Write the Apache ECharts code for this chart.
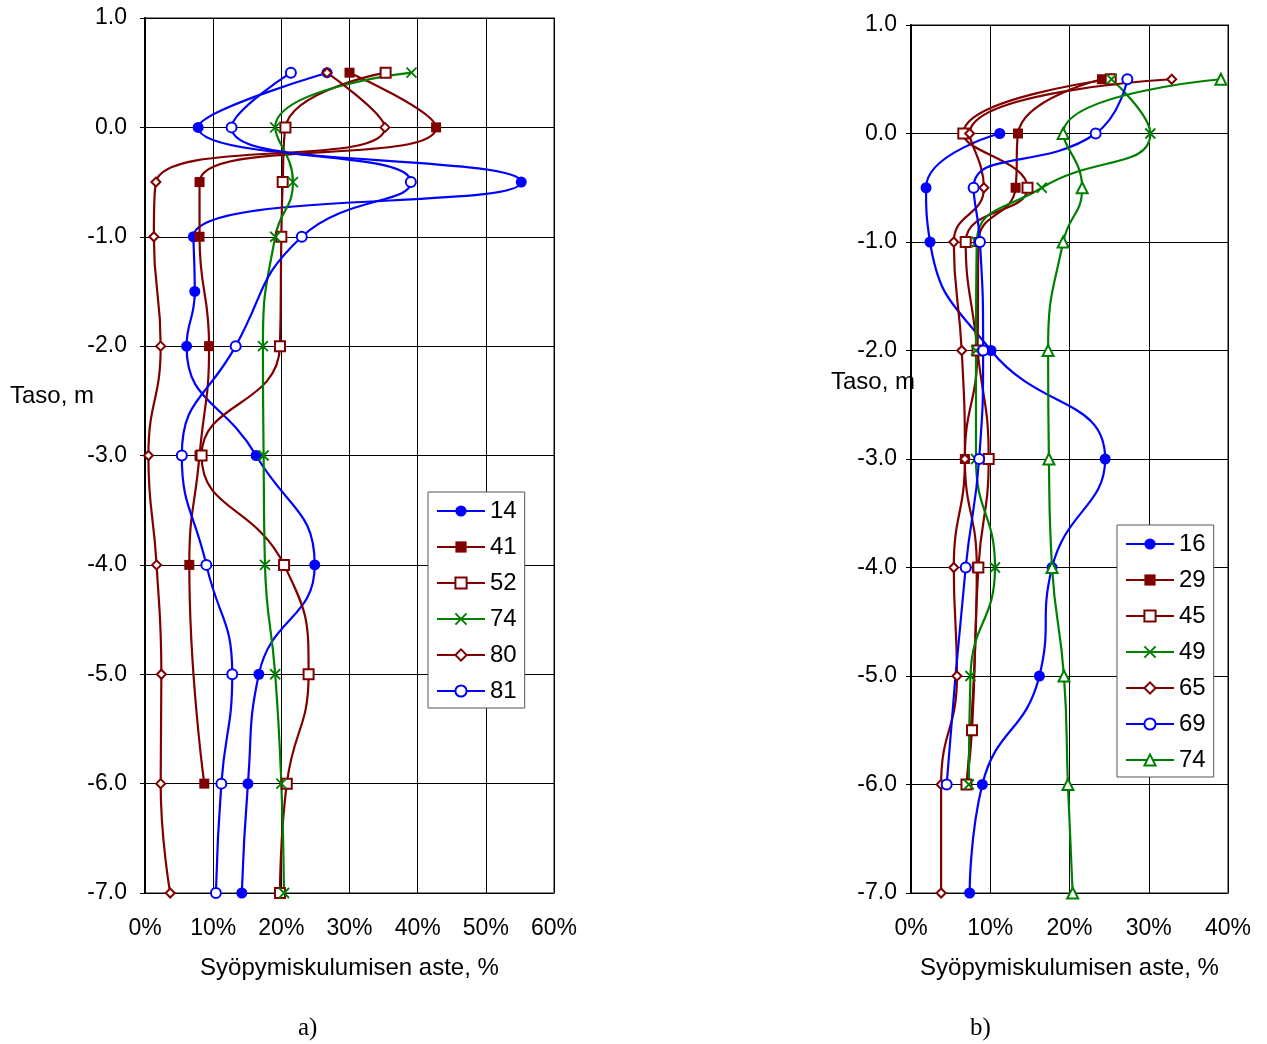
<!DOCTYPE html>
<html>
<head>
<meta charset="utf-8">
<script src="https://cdn.jsdelivr.net/npm/echarts@6/dist/echarts.min.js"></script>
<style>
html, body { margin: 0; padding: 0; background: #fff; }
#a { position: absolute; left: 0; top: 0; width: 640px; height: 1044px; }
#b { position: absolute; left: 640px; top: 0; width: 627px; height: 1044px; }
</style>
</head>
<body>
<div id="a"></div>
<div id="b"></div>
<script>
// levels (m) and corrosion (%), null = no point
const levelsA = [0.5, 0, -0.5, -1, -1.5, -2, -3, -4, -5, -6, -7];
const a14 = [26.7, 7.8, 55.2, 7.1, 7.3, 6.1, 16.3, 24.9, 16.7, 15.1, 14.2];
const a41 = [30.0, 42.7, 8.0, 8.0, null, 9.4, 8.0, 6.5, null, 8.7, null];
const a52 = [35.3, 20.6, 20.2, 20.0, null, 19.8, 8.3, 20.4, 24.0, 20.8, 19.8];
const a74 = [39.1, 19.1, 21.7, 19.1, null, 17.3, 17.4, 17.6, 19.1, 20.0, 20.4];
const a80 = [26.7, 35.2, 1.6, 1.3, null, 2.3, 0.5, 1.7, 2.4, 2.3, 3.7];
const a81 = [21.4, 12.7, 39.0, 23.0, null, 13.3, 5.4, 9.0, 12.8, 11.2, 10.4];

const levelsB = [0.5, 0, -0.5, -1, -2, -3, -4, -5, -5.5, -6, -7];
const b16 = [null, 11.2, 1.9, 2.4, 10.1, 24.5, 17.8, 16.2, null, 9.0, 7.4];
const b29 = [24.1, 13.5, 13.2, 8.5, 8.4, 6.8, 8.3, null, null, 7.0, null];
const b45 = [25.2, 6.6, 14.7, 6.9, 8.4, 9.8, 8.5, null, 7.7, 7.0, null];
const b49 = [25.3, 30.2, 16.5, 8.3, 8.2, 8.2, 10.6, 7.5, null, 7.3, null];
const b65 = [32.9, 7.4, 9.2, 5.4, 6.4, 6.8, 5.4, 5.8, null, 3.8, 3.8];
const b69 = [27.3, 23.3, 7.9, 8.7, 9.1, 8.6, 6.9, null, null, 4.5, null];
const b74 = [39.1, 19.2, 21.6, 19.2, 17.3, 17.4, 17.8, 19.3, null, 19.8, 20.4];

const BLUE = '#0000ff', RED = '#800000', GREEN = '#008000';
const CROSS = 'path://M0,0L10,10M0,10L10,0';

const mk = {
  dot: { symbol: 'circle', size: 11 },
  sq: { symbol: 'rect', size: 10 },
  osq: { symbol: 'emptyRect', size: 10 },
  x: { symbol: CROSS, size: 10 },
  dia: { symbol: 'emptyDiamond', size: 9 },
  oc: { symbol: 'emptyCircle', size: 10 },
  tri: { symbol: 'emptyTriangle', size: 11 }
};

function line(name, levels, vals, color, m) {
  const data = levels.map((l, i) => [vals[i], l]).filter(p => p[0] != null);
  return {
    name: name,
    type: 'line',
    data: data,
    smooth: 0.5,
    symbol: m.symbol,
    symbolSize: m.size,
    showAllSymbol: true,
    lineStyle: { color: color, width: 2.2 },
    itemStyle: { color: color, borderColor: color, borderWidth: m.symbol === 'circle' || m.symbol === 'rect' ? 0 : 1.8 },
    emphasis: { disabled: true },
    animation: false
  };
}

function panel(el, opt) {
  const chart = echarts.init(document.getElementById(el), null, { renderer: 'canvas' });
  const font = 'Arial, "Liberation Sans", sans-serif';
  chart.setOption({
    backgroundColor: '#fff',
    animation: false,
    grid: { left: opt.left, top: opt.top, width: opt.width, height: opt.height, show: true, borderColor: '#888', borderWidth: 2 },
    xAxis: {
      type: 'value', min: 0, max: opt.xmax, interval: 10,
      name: 'Syöpymiskulumisen aste, %', nameLocation: 'middle', nameGap: 63,
      nameTextStyle: { color: '#000', fontSize: 24, fontFamily: font },
      axisLine: { show: false },
      axisTick: { show: false },
      axisLabel: { formatter: '{value}%', color: '#000', fontSize: 23, fontFamily: font, margin: 24 },
      splitLine: { show: true, lineStyle: { color: '#000', width: 1 } }
    },
    yAxis: {
      type: 'value', min: -7, max: 1, interval: 1,
      axisLine: { show: true, onZero: false, lineStyle: { color: '#000', width: 2 } },
      axisTick: { show: true, length: 5, lineStyle: { color: '#000' } },
      axisLabel: { formatter: v => v.toFixed(1), color: '#000', fontSize: 23, fontFamily: font, margin: opt.ymargin },
      splitLine: { show: true, lineStyle: { color: '#000', width: 1 } }
    },
    legend: {
      orient: 'vertical', left: opt.legLeft, top: opt.legTop,
      backgroundColor: '#fff', borderColor: '#555', borderWidth: 1,
      padding: [7, 8, 5, 8],
      itemWidth: 48, itemHeight: 14, itemGap: 12,
      textStyle: { color: '#000', fontSize: 24, lineHeight: 24, fontFamily: font },
      selectedMode: false
    },
    graphic: [
      { type: 'text', left: opt.tasoX, top: opt.tasoY, style: { text: 'Taso, m', fill: '#000', font: '24px ' + font } },
      { type: 'text', left: opt.capX, top: 1016, style: { text: opt.cap, fill: '#000', font: '25px "Liberation Serif", "Times New Roman", serif' } }
    ],
    series: opt.series
  });
}

panel('a', {
  left: 145, top: 18, width: 409, height: 875, xmax: 60, ymargin: 18,
  legLeft: 428, legTop: 492, tasoX: 10, tasoY: 384, capX: 298, cap: 'a)',
  series: [
    line('14', levelsA, a14, BLUE, mk.dot),
    line('41', levelsA, a41, RED, mk.sq),
    line('52', levelsA, a52, RED, mk.osq),
    line('74', levelsA, a74, GREEN, mk.x),
    line('80', levelsA, a80, RED, mk.dia),
    line('81', levelsA, a81, BLUE, mk.oc)
  ]
});

panel('b', {
  left: 271, top: 25, width: 317, height: 868, xmax: 40, ymargin: 14,
  legLeft: 477, legTop: 525, tasoX: 191, tasoY: 370, capX: 330, cap: 'b)',
  series: [
    line('16', levelsB, b16, BLUE, mk.dot),
    line('29', levelsB, b29, RED, mk.sq),
    line('45', levelsB, b45, RED, mk.osq),
    line('49', levelsB, b49, GREEN, mk.x),
    line('65', levelsB, b65, RED, mk.dia),
    line('69', levelsB, b69, BLUE, mk.oc),
    line('74', levelsB, b74, GREEN, mk.tri)
  ]
});
</script>
</body>
</html>
